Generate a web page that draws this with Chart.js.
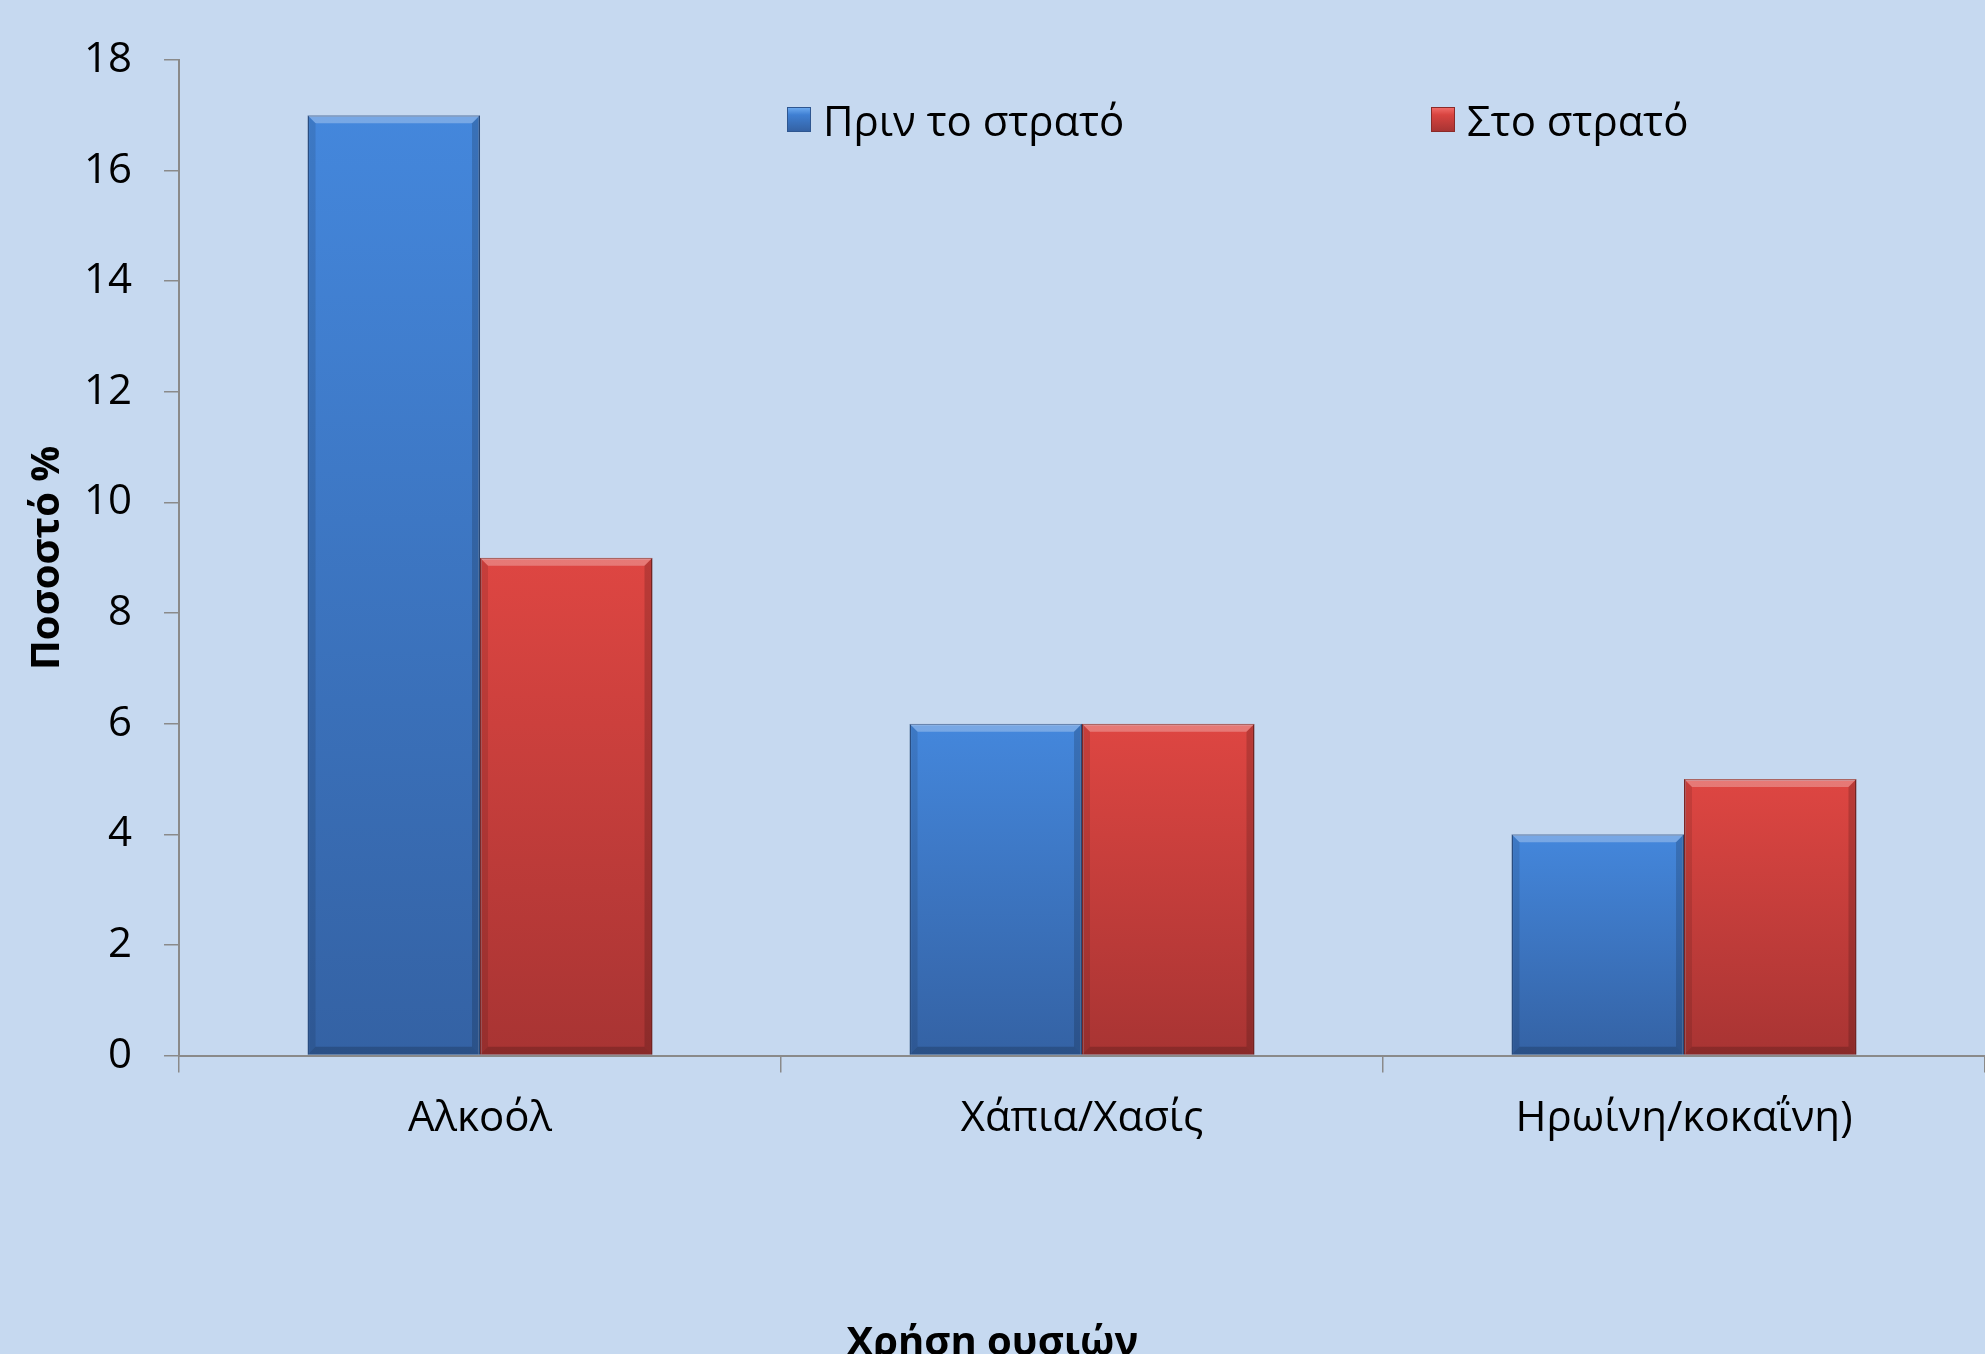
<!DOCTYPE html>
<html>
<head>
<meta charset="utf-8">
<script src="https://cdn.jsdelivr.net/npm/chart.js@4.4.1/dist/chart.umd.min.js"></script>
<style>
  html, body { margin: 0; padding: 0; overflow: hidden; background: #c6d9f0; }
  #wrap { position: relative; width: 1985px; height: 1380px; }
  .legend-item {
    position: absolute; top: 94px; height: 50px;
    display: flex; align-items: center;
    font-family: 'Open Sans', sans-serif; font-size: 42px; color: #000;
  }
  .legend-item .box { width: 24px; height: 25px; margin-right: 12px; box-sizing: border-box; }
  .box.blue { background: linear-gradient(#6aa8ee, #3f7fd2 30%, #3462a4); border: 1px solid #2e5690; }
  .box.red { background: linear-gradient(#f06a66, #d84440 30%, #a83433); border: 1px solid #8b2a28; }
</style>
</head>
<body>
<div id="wrap">
  <canvas id="barChart"></canvas>
  <div class="legend-item" style="left:787px"><span class="box blue"></span><span id="leg0"></span></div>
  <div class="legend-item" style="left:1431px"><span class="box red"></span><span id="leg1"></span></div>
</div>
<script>
// data
const categories = ['Αλκοόλ', 'Χάπια/Χασίς', 'Ηρωίνη/κοκαΐνη)'];
const seriesNames = ['Πριν το στρατό', 'Στο στρατό'];
const beforeArmy = [17, 6, 4];
const inArmy = [9, 6, 5];
const yMin = 0, yMax = 18, yStep = 2;
const yTitle = 'Ποσοστό %';
const xTitle = 'Χρήση ουσιών';

document.getElementById('leg0').innerText = seriesNames[0];
document.getElementById('leg1').innerText = seriesNames[1];

// vertical gradient per bar, light on top, darker at the base
function barGradient(topColor, bottomColor) {
  return function(ctx) {
    const chart = ctx.chart;
    if (!chart.chartArea || !chart.scales.y || ctx.type !== 'data') return topColor;
    const yScale = chart.scales.y;
    const yTop = yScale.getPixelForValue(ctx.raw);
    const yBase = yScale.getPixelForValue(0);
    const g = chart.ctx.createLinearGradient(0, yTop, 0, yBase);
    g.addColorStop(0, topColor);
    g.addColorStop(1, bottomColor);
    return g;
  };
}

// small bevel on each bar, like the office chart
const bevelPlugin = {
  id: 'bevel',
  afterDatasetsDraw(chart) {
    const c = chart.ctx;
    const b = 8;
    chart.data.datasets.forEach((ds, i) => {
      chart.getDatasetMeta(i).data.forEach(bar => {
        const p = bar.getProps(['x', 'y', 'base', 'width'], true);
        const l = p.x - p.width / 2, r = p.x + p.width / 2;
        c.save();
        c.fillStyle = 'rgba(255,255,255,0.28)';
        c.beginPath();
        c.moveTo(l, p.y); c.lineTo(r, p.y); c.lineTo(r - b, p.y + b); c.lineTo(l + b, p.y + b);
        c.closePath(); c.fill();
        c.fillStyle = 'rgba(0,0,0,0.10)';
        c.beginPath();
        c.moveTo(l, p.y); c.lineTo(l + b, p.y + b); c.lineTo(l + b, p.base - b); c.lineTo(l, p.base);
        c.closePath(); c.fill();
        c.fillStyle = 'rgba(0,0,0,0.16)';
        c.beginPath();
        c.moveTo(r, p.y); c.lineTo(r - b, p.y + b); c.lineTo(r - b, p.base - b); c.lineTo(r, p.base);
        c.closePath(); c.fill();
        c.fillStyle = 'rgba(0,0,0,0.18)';
        c.beginPath();
        c.moveTo(l, p.base); c.lineTo(l + b, p.base - b); c.lineTo(r - b, p.base - b); c.lineTo(r, p.base);
        c.closePath(); c.fill();
        c.restore();
      });
    });
  }
};

Chart.defaults.font.family = "'Open Sans', sans-serif";
Chart.defaults.color = '#000';

const ctx = document.getElementById('barChart').getContext('2d');
const myBarChart = new Chart(ctx, {
  type: 'bar',
  data: {
    labels: categories,
    datasets: [{
      label: seriesNames[0],
      data: beforeArmy,
      backgroundColor: barGradient('#4487dc', '#3462a4'),
      borderColor: '#2e5690',
      borderWidth: 1.5,
      categoryPercentage: 0.573,
      barPercentage: 1.0
    }, {
      label: seriesNames[1],
      data: inArmy,
      backgroundColor: barGradient('#de4642', '#a83433'),
      borderColor: '#8b2a28',
      borderWidth: 1.5,
      categoryPercentage: 0.573,
      barPercentage: 1.0
    }]
  },
  options: {
    responsive: true,
    maintainAspectRatio: false,
    animation: false,
    layout: { padding: { left: 0, right: 0, top: 60, bottom: 12 } },
    plugins: {
      legend: { display: false },
      tooltip: { enabled: false },
      title: {
        display: true,
        position: 'bottom',
        text: xTitle,
        font: { size: 40, weight: 'bold' },
        color: '#000',
        padding: { top: 155, bottom: 0 }
      }
    },
    scales: {
      x: {
        offset: true,
        grid: { offset: true, drawOnChartArea: false, drawTicks: true, tickLength: 17, color: '#8a8a8a', lineWidth: 1.5 },
        border: { color: '#8a8a8a', width: 2 },
        ticks: { font: { size: 42 }, padding: 21, color: '#000', maxRotation: 0 }
      },
      y: {
        min: yMin,
        max: yMax,
        grid: { drawOnChartArea: false, drawTicks: true, tickLength: 15, color: '#8a8a8a', lineWidth: 1.5 },
        border: { color: '#8a8a8a', width: 2 },
        ticks: { stepSize: yStep, font: { size: 42 }, padding: 32, color: '#000' },
        title: {
          display: true,
          text: yTitle,
          font: { size: 40, weight: 'bold' },
          color: '#000',
          padding: { top: 24, bottom: -20 }
        }
      }
    }
  },
  plugins: [bevelPlugin]
});
</script>
</body>
</html>
